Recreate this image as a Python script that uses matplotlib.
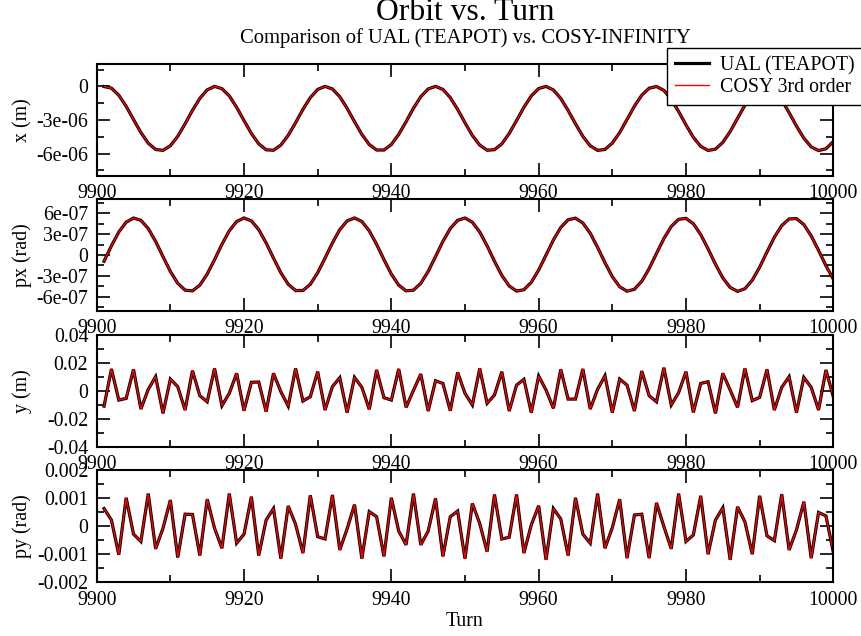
import numpy as np
import matplotlib
matplotlib.use("Agg")
import matplotlib.pyplot as plt
from matplotlib.ticker import FixedLocator, FixedFormatter, MultipleLocator

# ---------------- data ----------------
turns = np.arange(9901, 10001)

# x orbit in units of 1e-6 m
x_um = [
    -0.01, -0.16, -0.79, -1.78, -2.96, -4.12, -5.07, -5.63, -5.71, -5.30,
    -4.46, -3.34, -2.14, -1.07, -0.31, 0.00, -0.20, -0.85, -1.87, -3.05,
    -4.21, -5.13, -5.66, -5.70, -5.24, -4.37, -3.24, -2.05, -1.00, -0.27,
    0.00, -0.23, -0.92, -1.96, -3.15, -4.29, -5.19, -5.68, -5.68, -5.19,
    -4.29, -3.15, -1.95, -0.92, -0.23, 0.00, -0.27, -1.00, -2.05, -3.25,
    -4.38, -5.24, -5.70, -5.65, -5.13, -4.20, -3.05, -1.86, -0.85, -0.19,
    0.00, -0.32, -1.07, -2.15, -3.34, -4.46, -5.30, -5.71, -5.63, -5.06,
    -4.12, -2.95, -1.77, -0.78, -0.16, -0.01, -0.36, -1.15, -2.24, -3.44,
    -4.54, -5.35, -5.72, -5.60, -5.00, -4.03, -2.85, -1.68, -0.72, -0.13,
    -0.02, -0.41, -1.23, -2.34, -3.54, -4.62, -5.40, -5.73, -5.57, -4.93,
]

# px in units of 1e-7 rad
px_e7 = [
    -0.89, 1.32, 3.30, 4.71, 5.31, 4.98, 3.80, 1.95, -0.23, -2.36,
    -4.06, -5.05, -5.15, -4.33, -2.74, -0.67, 1.53, 3.47, 4.81, 5.32,
    4.90, 3.64, 1.74, -0.45, -2.55, -4.20, -5.10, -5.10, -4.20, -2.55,
    -0.45, 1.74, 3.64, 4.90, 5.32, 4.81, 3.47, 1.53, -0.67, -2.74,
    -4.33, -5.15, -5.05, -4.07, -2.36, -0.23, 1.95, 3.80, 4.98, 5.31,
    4.71, 3.30, 1.32, -0.89, -2.93, -4.45, -5.18, -4.99, -3.92, -2.16,
    -0.01, 2.16, 3.95, 5.06, 5.29, 4.60, 3.12, 1.10, -1.11, -3.11,
    -4.56, -5.20, -4.92, -3.77, -1.95, 0.22, 2.36, 4.10, 5.12, 5.26,
    4.49, 2.94, 0.88, -1.32, -3.29, -4.66, -5.22, -4.84, -3.62, -1.75,
    0.44, 2.56, 4.23, 5.18, 5.23, 4.37, 2.75, 0.66, -1.54, -3.45,
]

# y orbit in units of 1e-3 m
y_mm = [
    -11.0, 15.5, -6.7, -5.5, 15.2, -13.1, 1.0, 10.0, -16.2, 8.3,
    2.9, -13.8, 14.3, -3.6, -7.9, 15.9, -10.7, -1.9, 12.4, -14.3,
    6.0, 6.2, -15.0, 12.4, -0.7, -11.0, 15.9, -7.4, -4.3, 13.6,
    -13.8, 2.9, 9.3, -15.7, 9.5, 2.4, -13.3, 14.8, -5.0, -6.7,
    15.5, -11.9, 0.2, 11.9, -14.5, 7.1, 5.2, -14.3, 13.1, -1.9,
    -10.2, 15.9, -9.0, -3.1, 13.6, -14.5, 4.0, 8.1, -15.7, 10.5,
    0.5, -12.6, 15.2, -6.0, -6.0, 15.5, -13.1, 1.0, 10.7, -15.7,
    8.3, 4.0, -14.5, 14.0, -3.6, -7.9, 16.4, -10.2, -1.4, 13.6,
    -15.5, 5.2, 6.4, -16.2, 12.4, 0.5, -11.9, 15.9, -7.1, -4.8,
    15.2, -13.8, 2.4, 10.0, -15.7, 9.5, 2.4, -13.8, 14.8, -4.3,
]

# py in units of 1e-3 rad
py_mrad = [
    0.62, 0.21, -1.02, 1.00, -0.29, -0.55, 1.15, -0.81, -0.08, 0.92,
    -1.12, 0.42, 0.41, -1.05, 0.95, -0.08, -0.79, 1.15, -0.61, -0.29,
    1.04, -1.05, 0.21, 0.62, -1.16, 0.71, 0.06, -0.96, 1.09, -0.38,
    -0.46, 1.10, -0.85, -0.10, 0.76, -1.16, 0.51, 0.33, -1.08, 1.00,
    -0.18, -0.67, 1.15, -0.67, -0.18, 0.98, -1.08, 0.33, 0.53, -1.16,
    0.80, 0.09, -0.91, 1.12, -0.46, -0.40, 1.12, -0.96, 0.04, 0.72,
    -1.20, 0.62, 0.25, -1.05, 1.00, -0.29, -0.61, 1.15, -0.79, -0.06,
    0.95, -1.14, 0.39, 0.42, -1.14, 0.82, -0.02, -0.81, 1.15, -0.55,
    -0.32, 1.07, -1.00, 0.21, 0.65, -1.20, 0.68, 0.15, -1.00, 1.07,
    -0.35, -0.52, 1.13, -0.85, -0.14, 0.86, -1.14, 0.48, 0.36, -0.93,
]

series_names = ["UAL (TEAPOT)", "COSY 3rd order"]
title_text = "Orbit vs. Turn"
subtitle_text = "Comparison of UAL (TEAPOT) vs. COSY-INFINITY"
xlabel_text = "Turn"

x_ticks = [9900, 9920, 9940, 9960, 9980, 10000]
x_tick_labels = ["9900", "9920", "9940", "9960", "9980", "10000"]

panel_ylabels = ["x (m)", "px (rad)", "y (m)", "py (rad)"]
ytick_vals = [
    [-6e-6, -3e-6, 0.0],
    [-6e-7, -3e-7, 0.0, 3e-7, 6e-7],
    [-0.04, -0.02, 0.0, 0.02, 0.04],
    [-0.002, -0.001, 0.0, 0.001, 0.002],
]
ytick_labels = [
    ["-6e-06", "-3e-06", "0"],
    ["-6e-07", "-3e-07", "0", "3e-07", "6e-07"],
    ["-0.04", "-0.02", "0", "0.02", "0.04"],
    ["-0.002", "-0.001", "0", "0.001", "0.002"],
]
ylims = [(-8e-6, 2e-6), (-8e-7, 8e-7), (-0.04, 0.04), (-0.002, 0.002)]
yminor = [1.5e-6, 1.5e-7, 0.01, 0.0005]

panel_data = [
    np.array(x_um) * 1e-6,
    np.array(px_e7) * 1e-7,
    np.array(y_mm) * 1e-3,
    np.array(py_mrad) * 1e-3,
]

# ---------------- figure ----------------
W, H = 861, 636
fig = plt.figure(figsize=(W / 100, H / 100), dpi=100)
serif = ["Liberation Serif", "DejaVu Serif"]
plt.rcParams["font.family"] = serif

left_px, right_px = 96.7, 833.3
panel_px = [(64, 176), (199.3, 310.7), (334.7, 446.7), (469.7, 582.3)]

tick_fs = 14.3
axes = []
for i, (top, bot) in enumerate(panel_px):
    ax = fig.add_axes([left_px / W, 1 - bot / H, (right_px - left_px) / W, (bot - top) / H])
    axes.append(ax)
    d = panel_data[i]
    l1, = ax.plot(turns, d, color="black", lw=2.3, solid_joinstyle="miter")
    l2, = ax.plot(turns, d, color="red", lw=1.0)
    if i == 0:
        handles = [l1, l2]
    ax.set_xlim(9900, 10000)
    ax.set_ylim(*ylims[i])
    ax.xaxis.set_major_locator(FixedLocator(x_ticks))
    ax.xaxis.set_major_formatter(FixedFormatter(x_tick_labels))
    ax.xaxis.set_minor_locator(MultipleLocator(10))
    ax.yaxis.set_major_locator(FixedLocator(ytick_vals[i]))
    ax.yaxis.set_major_formatter(FixedFormatter(ytick_labels[i]))
    ax.yaxis.set_minor_locator(MultipleLocator(yminor[i]))
    ax.tick_params(which="both", direction="in", top=True, right=True,
                   labelsize=tick_fs, width=1.2, colors="black")
    ax.tick_params(which="major", length=9.5)
    ax.tick_params(which="minor", length=4.8)
    ax.tick_params(axis="x", which="major", pad=6)
    ax.tick_params(axis="y", which="major", pad=6)
    for s in ax.spines.values():
        s.set_linewidth(1.5)
    ax.set_ylabel(panel_ylabels[i], fontsize=tick_fs)
    ax.yaxis.set_label_coords((32 - left_px) / (right_px - left_px), 0.5)

axes[-1].set_xlabel(xlabel_text, fontsize=tick_fs)
axes[-1].xaxis.set_label_coords(0.5, (582.3 - 626) / (582.3 - 469.7))
axes[-1].xaxis.label.set_va("baseline")

fig.text(465 / W, 1 - 19.5 / H, title_text, ha="center", va="baseline", fontsize=22.8)
fig.text(465 / W, 1 - 43.5 / H, subtitle_text, ha="center", va="baseline", fontsize=14.9)

leg = fig.legend(handles, series_names, loc="upper left",
                 bbox_to_anchor=(667 / W, 1 - 48 / H), bbox_transform=fig.transFigure,
                 frameon=True, fancybox=False, framealpha=1, edgecolor="black",
                 borderpad=0.4, handlelength=1.7, handletextpad=0.55,
                 labelspacing=0.15, borderaxespad=0, fontsize=tick_fs)
leg.get_frame().set_linewidth(1.0)

fig.savefig("out.png", dpi=100)
